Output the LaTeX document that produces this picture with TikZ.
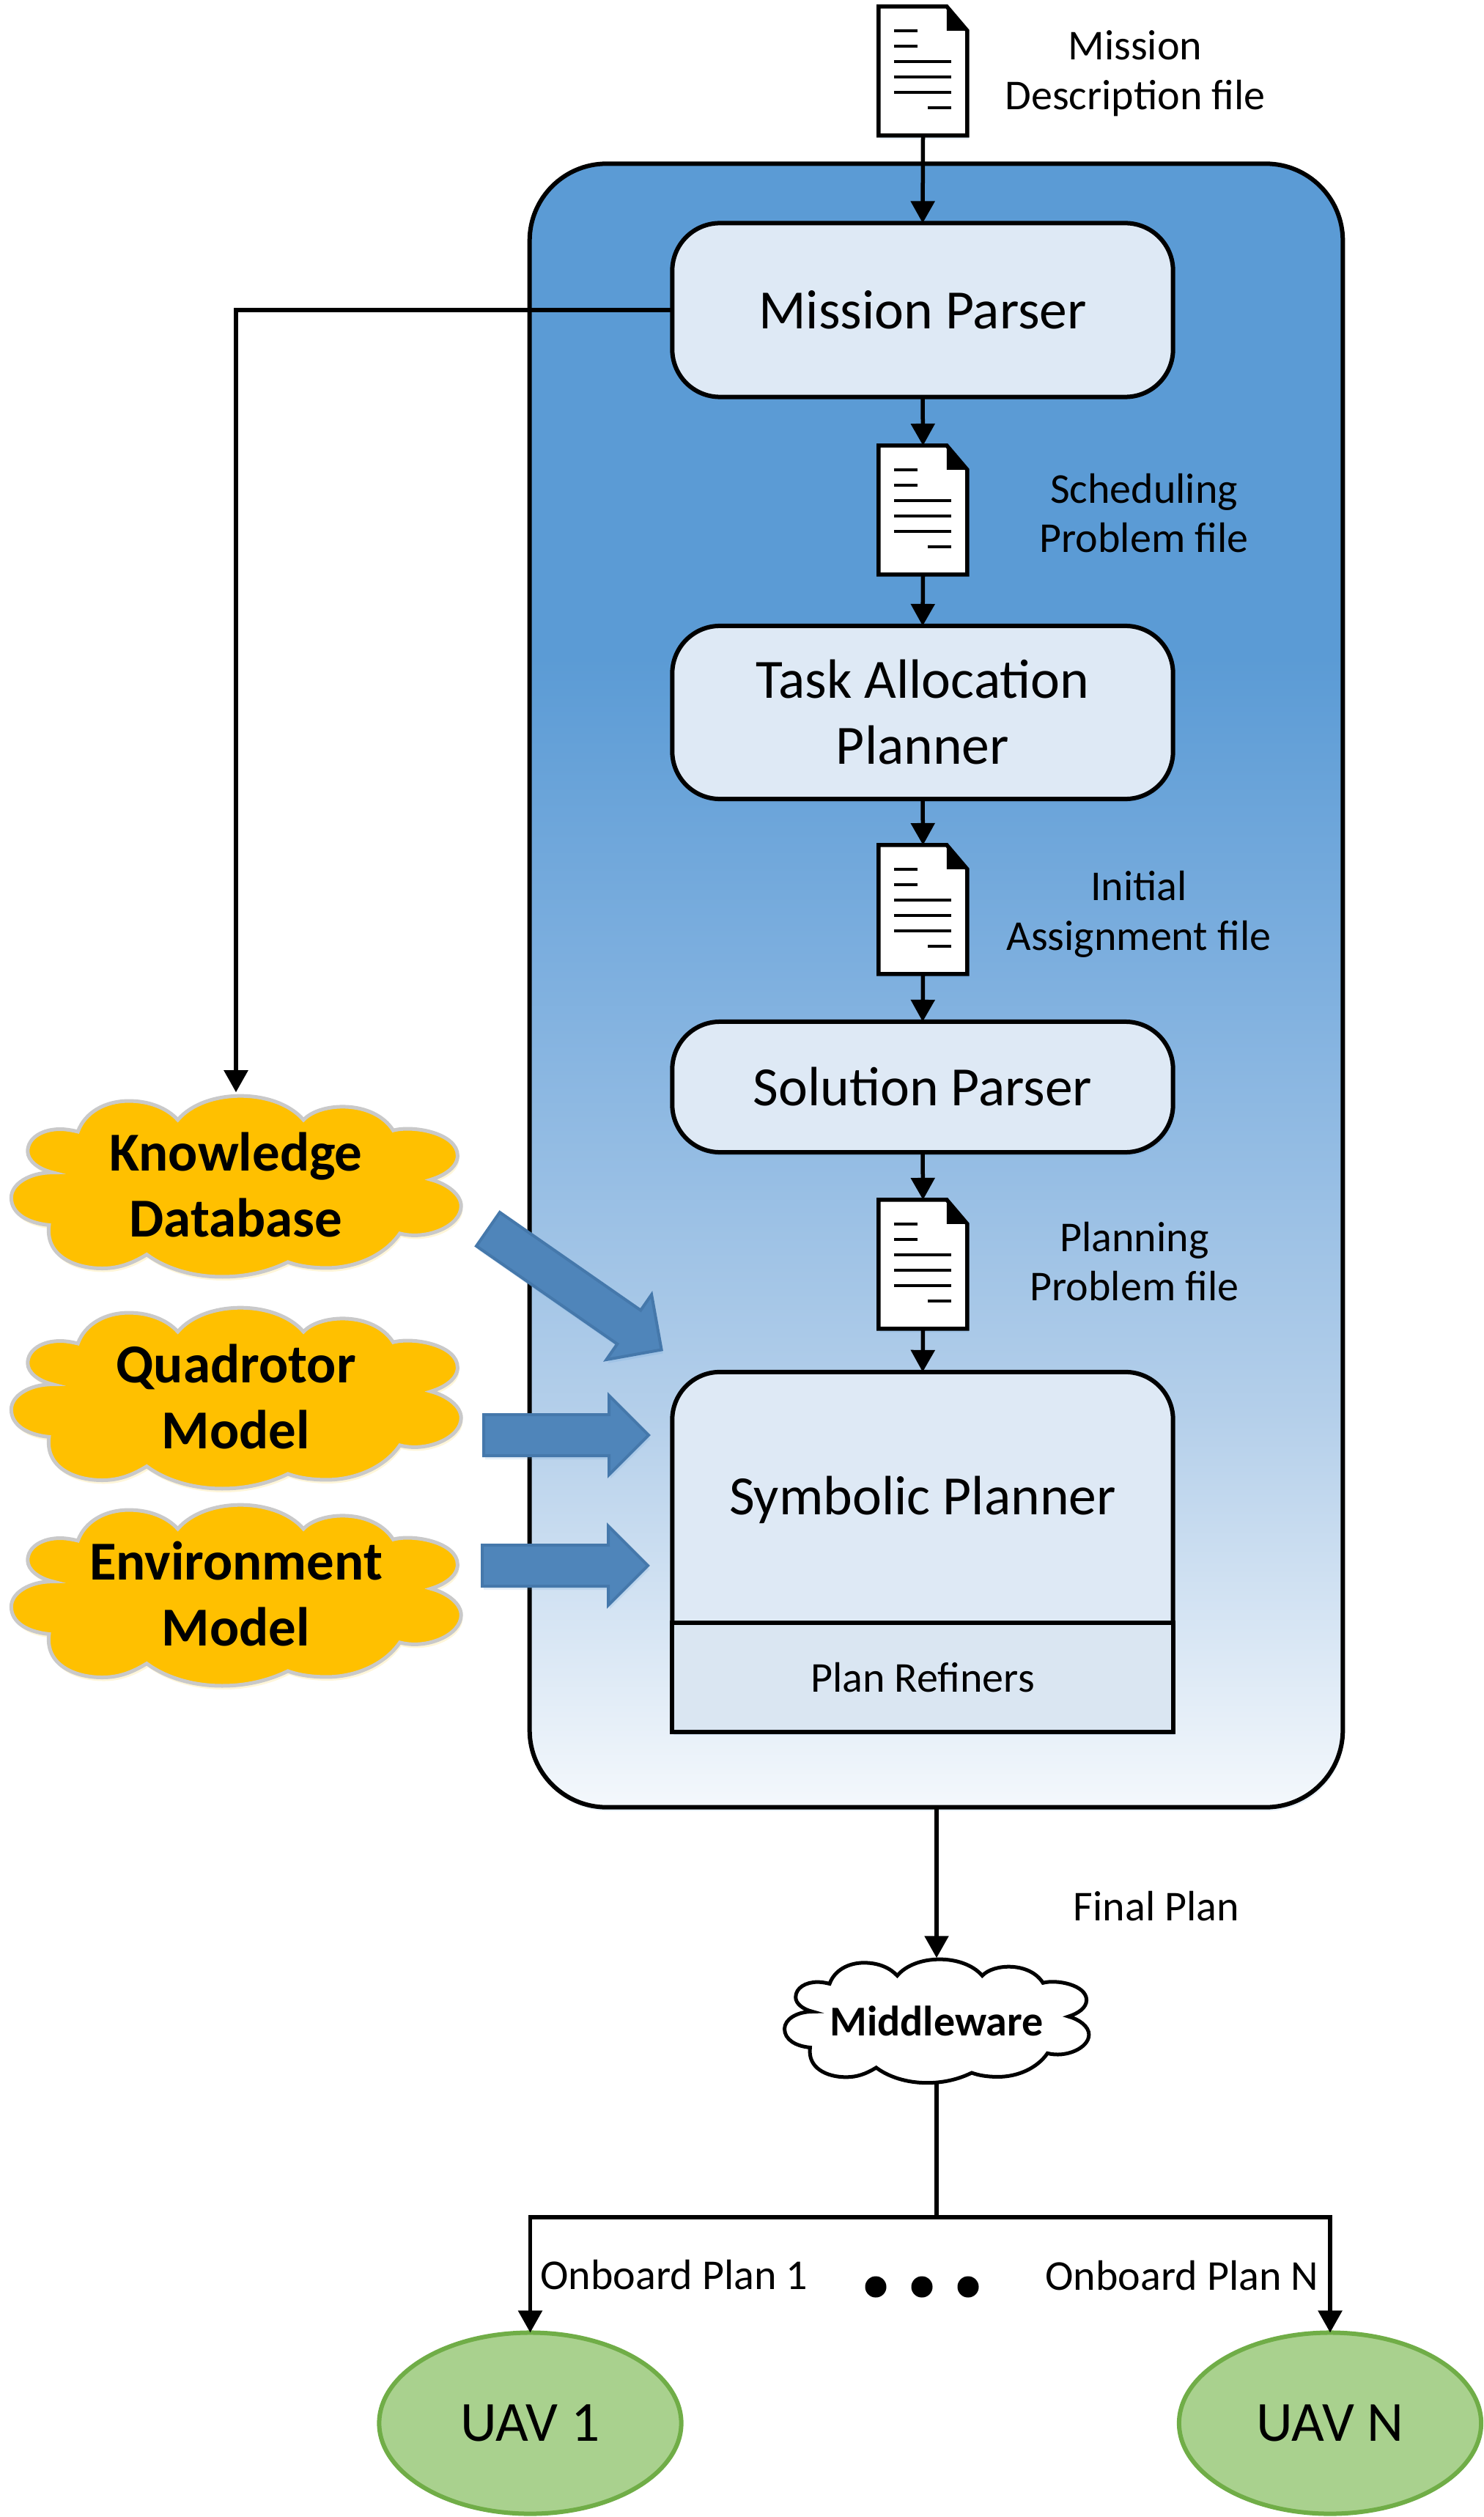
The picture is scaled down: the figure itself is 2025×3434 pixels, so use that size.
\documentclass[tikz,border=0pt]{standalone}
\usepackage{fontspec}
\setmainfont{Carlito}
\usetikzlibrary{arrows.meta, shapes.geometric, shapes.arrows, shadows}
\definecolor{panelblue}{HTML}{5B9BD5}
\definecolor{panelmid}{HTML}{7FB0DF}
\definecolor{panelpale}{HTML}{B4CFEA}
\definecolor{panellow}{HTML}{F4F8FC}
\definecolor{blocklight}{HTML}{DEE9F5}
\definecolor{refinerlight}{HTML}{DAE6F2}
\definecolor{cloudgold}{HTML}{FFC000}
\definecolor{cloudedge}{HTML}{C9C9C9}
\definecolor{arrowblue}{HTML}{4F85BA}
\definecolor{arrowedge}{HTML}{4578AB}
\definecolor{uavgreen}{HTML}{A9D18E}
\definecolor{uavedge}{HTML}{70AD47}
\pgfdeclareverticalshading{panelfade}{100bp}{color(0bp)=(panellow); color(25bp)=(panellow);
  color(37bp)=(panelpale); color(50bp)=(panelmid); color(60bp)=(panelblue); color(100bp)=(panelblue)}

\tikzset{
  softshadow/.style={drop shadow={shadow xshift=0.02cm, shadow yshift=-0.05cm, opacity=0.15, fill=#1}},
  softshadow/.default=panelblue,
  flow/.style={line width=0.055cm, -{Triangle[width=0.32cm, length=0.3cm]}},
  bus/.style={line width=0.055cm},
  blockbox/.style={draw, line width=0.06cm, fill=blocklight, rounded corners=0.65cm, minimum width=6.83cm,
    align=center, outer sep=0pt, font=\fontsize{21.5}{25.6}\selectfont, softshadow},
  docbox/.style={minimum width=1.21cm, minimum height=1.76cm, inner sep=0pt, outer sep=0pt},
  filelabel/.style={align=center, font=\fontsize{16.5}{19.3}\selectfont},
  cloudtag/.style={align=center, inner sep=0pt, font=\fontsize{21.3}{25.6}\bfseries\selectfont},
  fatarrow/.style={single arrow, draw=arrowedge, fill=arrowblue, line width=0.04cm, minimum width=1.05cm,
    single arrow head extend=0.26cm, single arrow tip angle=90, inner ysep=0.26cm, inner xsep=0pt, outer sep=0pt,
    anchor=tail, softshadow},
  uavnode/.style={ellipse, draw=uavedge, fill=uavgreen, line width=0.06cm, minimum width=4.12cm,
    minimum height=2.47cm, inner sep=0pt, outer sep=0pt, font=\fontsize{22}{26}\selectfont},
  dotmark/.style={circle, fill=black, minimum size=0.29cm, inner sep=0pt},
}

% file icon: name, centre
\newcommand{\filedoc}[2]{
  \node[docbox] (#1) at #2 {};
  \begin{scope}[shift={(#1.north west)}]
    \draw[line width=0.055cm, fill=white, softshadow] (0,0) -- (93,0) -- (121,33) -- (121,176) -- (0,176) -- cycle;
    \fill (93,0) -- (121,33) -- (93,33) -- cycle;
    \foreach \yy/\xa/\xb in {33/21/53, 54/21/53, 75/21/99, 96/21/99, 117/21/99, 138/67/99}
      \draw[line width=0.04cm] (\xa,\yy) -- (\xb,\yy);
  \end{scope}
}

% cloud outline, drawn round (0,0)
\newcommand{\cloudoutline}{
  (-131,-157) .. controls (-70,-233) and (90,-233) .. (152,-157)
  .. controls (190,-200) and (310,-205) .. (354,-132)
  .. controls (400,-145) and (499,-125) .. (499,-72)
  .. controls (499,-45) and (470,-25) .. (439,-15)
  .. controls (475,-5) and (507,20) .. (507,48)
  .. controls (507,95) and (430,130) .. (369,113)
  .. controls (335,165) and (270,195) .. (204,195)
  .. controls (170,195) and (140,190) .. (117,181)
  .. controls (70,205) and (20,216) .. (-31,216)
  .. controls (-100,216) and (-160,195) .. (-201,163)
  .. controls (-235,185) and (-265,196) .. (-301,196)
  .. controls (-365,196) and (-430,165) .. (-421,93)
  .. controls (-470,88) and (-506,65) .. (-506,28)
  .. controls (-506,-5) and (-465,-32) .. (-413,-32)
  .. controls (-445,-40) and (-469,-60) .. (-469,-82)
  .. controls (-469,-115) and (-435,-135) .. (-396,-135)
  .. controls (-382,-135) and (-368,-132) .. (-356,-129)
  .. controls (-340,-175) and (-295,-202) .. (-241,-202)
  .. controls (-195,-202) and (-155,-185) .. (-131,-157) -- cycle
}

\begin{document}
\begin{tikzpicture}[x=0.01cm, y=-0.01cm]
  \useasboundingbox (0,0) rectangle (2025,3434);

  % outer panel
  \node[draw, line width=0.06cm, shading=panelfade, shading angle=0, rounded corners=1.05cm, minimum width=11.09cm,
    minimum height=22.41cm, outer sep=0pt, softshadow] (panel) at (1277.5,1344.5) {};

  % parser and planner blocks
  \node[blockbox, minimum height=2.37cm] (mparser) at (1259,423) {Mission Parser};
  \node[blockbox, minimum height=2.36cm] (tasker) at (1259,972) {Task Allocation\\Planner};
  \node[blockbox, minimum height=1.78cm] (sparser) at (1259,1483) {Solution Parser};

  \node[minimum width=6.83cm, minimum height=4.9cm, inner sep=0pt, outer sep=0pt] (symb) at (1259,2117) {};
  \draw[line width=0.06cm, fill=blocklight, softshadow] (symb.south west)
    {[rounded corners=0.65cm] -- (symb.north west) -- (symb.north east)} -- (symb.south east) -- cycle;
  \node[draw, line width=0.06cm, fill=refinerlight, minimum width=6.83cm, minimum height=1.49cm, outer sep=0pt,
    font=\fontsize{16.5}{19.3}\selectfont] (refiners) at (1259,2288.5) {Plan Refiners};
  \node[font=\fontsize{21.5}{25.6}\selectfont] (symbtext) at (1259,2046) {Symbolic Planner};

  % file icons
  \filedoc{missionfile}{(1259.5,97)}
  \filedoc{schedfile}{(1259.5,696)}
  \filedoc{assignfile}{(1259.5,1241)}
  \filedoc{planfile}{(1259.5,1725)}

  \node[filelabel] (missionlabel) at (1549,100) {Mission\\Description file};
  \node[filelabel] (schedlabel) at (1561,700) {Scheduling\\Problem file};
  \node[filelabel] (assignlabel) at (1554,1247) {Initial\\Assignment file};
  \node[filelabel] (planlabel) at (1548,1721) {Planning\\Problem file};

  % knowledge clouds
  \foreach \cname/\cy/\ctext in {kbase/1618/Knowledge\\Database, quadmodel/1907/Quadrotor\\Model, envmodel/2176/Environment\\Model}{
    \draw[line width=0.05cm, draw=cloudedge, fill=cloudgold, softshadow=cloudgold, shift={(322,\cy)}, xscale=0.606, yscale=0.574] \cloudoutline;
    \node[cloudtag, minimum width=6.17cm, minimum height=2.5cm] (\cname) at (322,\cy-2) {\ctext};
  }

  % middleware cloud
  \draw[line width=0.05cm, fill=white, shift={(1278,2757)}, xscale=0.41, yscale=0.392] \cloudoutline;
  \node[align=center, inner sep=0pt, minimum height=1.7cm, font=\fontsize{16.5}{19.3}\bfseries\selectfont] (mware) at (1278,2757) {Middleware};

  % fat arrows into the planner
  \node[fatarrow, minimum height=2.88cm, rotate=-34.8] (kbarrow) at (666,1677) {};
  \node[fatarrow, minimum height=2.25cm] (quadarrow) at (660,1958) {};
  \node[fatarrow, minimum height=2.26cm] (envarrow) at (658,2136) {};

  % UAVs
  \node[uavnode] (uavone) at (723.5,3306) {UAV 1};
  \node[uavnode] (uavn) at (1815,3306) {UAV N};

  \coordinate (split) at (1278,3025);

  % connectors
  \draw[flow] (missionfile.south) -- (mparser.north);
  \draw[flow] (mparser.south) -- (schedfile.north);
  \draw[flow] (schedfile.south) -- (tasker.north);
  \draw[flow] (tasker.south) -- (assignfile.north);
  \draw[flow] (assignfile.south) -- (sparser.north);
  \draw[flow] (sparser.south) -- (planfile.north);
  \draw[flow] (planfile.south) -- (symb.north);
  \draw[flow] (mparser.west) -| (kbase.north);
  \draw[flow] (panel.south -| mware.north) -- (mware.north);
  \draw[bus] (mware.south) -- (split);
  \draw[flow] (split) -| (uavone.north);
  \draw[flow] (split) -| (uavn.north);

  \node[filelabel] (finallabel) at (1578,2601) {Final Plan};
  \node[filelabel] (onboardone) at (920,3104) {Onboard Plan 1};
  \node[filelabel] (onboardn) at (1613,3105) {Onboard Plan N};
  \foreach \xx in {1195,1258,1321}
    \node[dotmark] (dot\xx) at (\xx,3120) {};
\end{tikzpicture}
\end{document}
